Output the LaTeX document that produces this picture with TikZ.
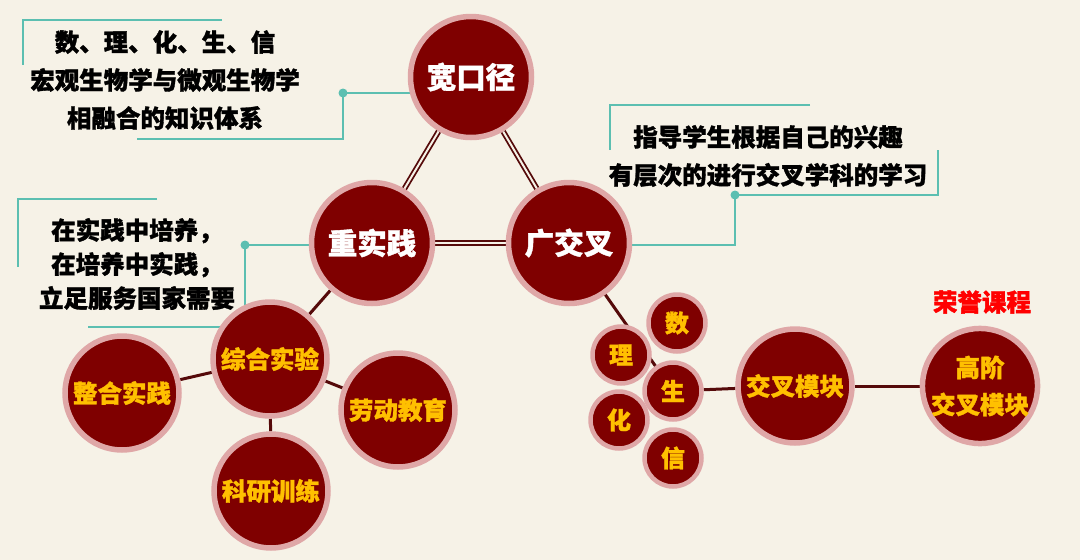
\documentclass[tikz,border=0pt]{standalone}
\usepackage{fontspec}
\newfontfamily\cjk[BoldFeatures={FakeBold=1.3}]{Noto Sans CJK SC}
\definecolor{bgc}{HTML}{F6F2E7}
\definecolor{dred}{HTML}{7F0000}
\definecolor{ringc}{HTML}{DFA7A7}
\definecolor{tealc}{HTML}{5CBFB1}
\definecolor{goldc}{HTML}{FFC000}
\definecolor{edgec}{HTML}{550A0A}
\definecolor{redc}{HTML}{FF0000}
\pgfdeclarelayer{bglayer}
\pgfdeclarelayer{edgelayer}
\pgfsetlayers{bglayer,edgelayer,main}
\tikzset{
  bignode/.style={circle, fill=dred, draw=ringc, line width=5.5pt, minimum size=121pt, inner sep=0pt,
    font=\cjk\bfseries\fontsize{29.5}{31}\selectfont, text=white},
  midnode/.style={circle, fill=dred, draw=ringc, line width=5.5pt, minimum size=114pt, inner sep=0pt,
    font=\cjk\bfseries\fontsize{24.5}{37}\selectfont, text=goldc, align=center},
  smallnode/.style={circle, fill=dred, draw=ringc, line width=4.5pt, minimum size=57pt, inner sep=0pt,
    font=\cjk\bfseries\fontsize{24}{25}\selectfont, text=goldc},
  notetext/.style={font=\cjk\bfseries\fontsize{24.5}{38}\selectfont, align=center, text=black, inner sep=0pt},
  tri/.style={draw=edgec, line width=1.8pt, double=bgc, double distance=2pt},
  link/.style={draw=edgec, line width=3pt},
  callout/.style={draw=tealc, line width=2pt},
  cdot/.style={fill=tealc},
}
\begin{document}
\begin{tikzpicture}[x=1pt,y=-1pt]
\begin{pgfonlayer}{bglayer}
\fill[bgc] (0,0) rectangle (1080,560);
\end{pgfonlayer}
\useasboundingbox (0,0) rectangle (1080,560);

% main triangle
\node[bignode] (kkj) at (471,77) {宽口径};
\node[bignode] (zsj) at (372,243) {重实践};
\node[bignode] (gjc) at (569,243) {广交叉};

% practice branch
\node[midnode] (zhsy) at (270,359) {综合实验};
\node[midnode] (zhsj) at (122,393) {整合实践};
\node[midnode] (ldjy) at (398,410) {劳动教育};
\node[midnode] (kyxl) at (271,491) {科研训练};

% cross branch
\node[smallnode] (shu) at (677,323) {数};
\node[smallnode] (li) at (621,355) {理};
\node[smallnode] (sheng) at (673,391) {生};
\node[smallnode] (hua) at (619,420) {化};
\node[smallnode] (xin) at (673,458) {信};
\node[midnode] (jcmk) at (795,386) {交叉模块};
\node[midnode] (gjjc) at (980,386) {高阶\\交叉模块};
\node[font=\cjk\bfseries\fontsize{24.5}{25}\selectfont, text=redc] (rygc) at (982,302) {荣誉课程};

% notes
\node[notetext] (t1) at (165,80) {数、理、化、生、信\\宏观生物学与微观生物学\\相融合的知识体系};
\node[notetext, font=\cjk\bfseries\fontsize{24.5}{34}\selectfont] (t2) at (137,264) {在实践中培养，\\在培养中实践，\\立足服务国家需要};
\node[notetext] (t3) at (768,156) {指导学生根据自己的兴趣\\有层次的进行交叉学科的学习};

% callout coordinates
\coordinate (c1a) at (222,20);
\coordinate (c1b) at (23,20);
\coordinate (c1c) at (23,65);
\coordinate (c1d) at (137,139);
\coordinate (c1e) at (343,139);
\coordinate (d1) at (343,93);
\coordinate (c2a) at (157,199);
\coordinate (c2b) at (18,199);
\coordinate (c2c) at (18,267);
\coordinate (c2d) at (88,327);
\coordinate (c2e) at (245,327);
\coordinate (d2) at (245,245);
\coordinate (c3a) at (810,105);
\coordinate (c3b) at (610,105);
\coordinate (c3c) at (610,150);
\coordinate (c3d) at (938,150);
\coordinate (c3e) at (938,195);
\coordinate (d3) at (735,195);
\coordinate (c3f) at (735,245);

\begin{pgfonlayer}{edgelayer}
\draw[tri] (kkj) -- (zsj);
\draw[tri] (kkj) -- (gjc);
\draw[tri] (zsj) -- (gjc);
\draw[link] (zsj) -- (zhsy);
\draw[link] (zhsy) -- (zhsj);
\draw[link] (zhsy) -- (ldjy);
\draw[link] (zhsy) -- (kyxl);
\draw[link] (gjc.center) -- (sheng.center);
\draw[link] (sheng) -- (jcmk);
\draw[link] (jcmk) -- (gjjc);
% callouts
\draw[callout] (c1a) -- (c1b) -- (c1c);
\draw[callout] (c1d) -- (c1e) -- (d1) -- (d1 -| kkj);
\draw[callout] (c2a) -- (c2b) -- (c2c);
\draw[callout] (c2d) -- (c2e) -- (d2) -- (d2 -| zsj);
\draw[callout] (c3a) -- (c3b) -- (c3c);
\draw[callout] (c3d) -- (c3e) -- (d3) -- (c3f) -- (c3f -| gjc);
\fill[cdot] (d1) circle (4.5);
\fill[cdot] (d2) circle (4.5);
\fill[cdot] (d3) circle (4.5);
\end{pgfonlayer}
\end{tikzpicture}
\end{document}
